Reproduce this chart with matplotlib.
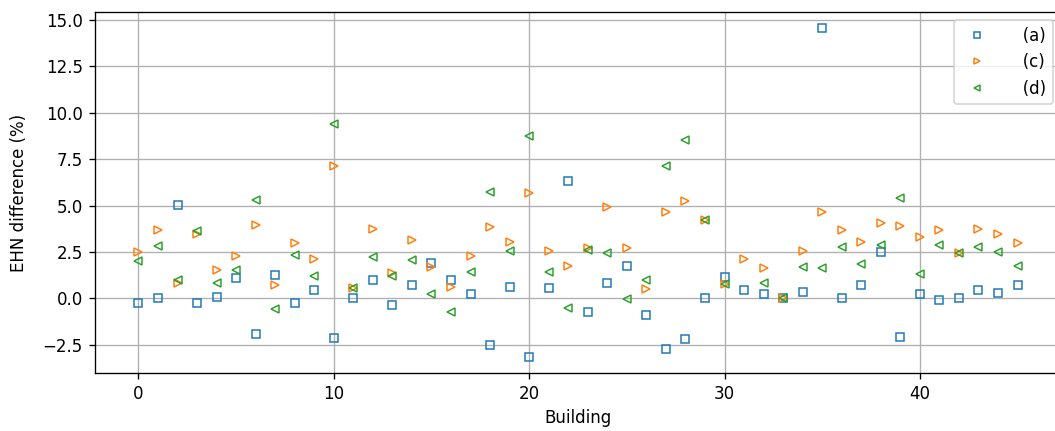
import numpy as np
import matplotlib
matplotlib.use("Agg")
import matplotlib.pyplot as plt

buildings = list(range(46))

series_a = [-0.23, 0.0, 5.05, -0.23, 0.07, 1.11, -1.94, 1.27, -0.23, 0.43,
            -2.15, 0.0, 0.99, -0.36, 0.72, 1.92, 0.99, 0.22, -2.49, 0.63,
            -3.14, 0.57, 6.31, -0.72, 0.84, 1.77, -0.91, -2.71, -2.2, 0.0,
            1.16, 0.43, 0.22, 0.0, 0.34, 14.55, 0.0, 0.72, 2.49, -2.06,
            0.22, -0.09, 0.0, 0.43, 0.27, 0.72]

series_c = [2.49, 3.71, 0.84, 3.48, 1.51, 2.28, 3.98, 0.72, 2.97, 2.13,
            7.11, 0.57, 3.76, 1.34, 3.14, 1.70, 0.63, 2.28, 3.84, 3.05,
            5.70, 2.54, 1.77, 2.72, 4.91, 2.72, 0.48, 4.64, 5.27, 4.21,
            0.79, 2.12, 1.62, 0.0, 2.54, 4.64, 3.66, 3.05, 4.07, 3.89,
            3.30, 3.66, 2.42, 3.76, 3.48, 2.97]

series_d = [1.99, 2.83, 0.97, 3.62, 0.84, 1.51, 5.32, -0.56, 2.35, 1.20,
            9.39, 0.57, 2.22, 1.20, 2.08, 0.22, -0.72, 1.42, 5.75, 2.54,
            8.76, 1.42, -0.50, 2.63, 2.42, -0.05, 0.99, 7.11, 8.55, 4.21,
            0.75, np.nan, 0.84, 0.0, 1.70, 1.65, 2.78, 1.83, 2.90, 5.39,
            1.29, 2.90, 2.42, 2.78, 2.49, 1.77]

labels = ["(a)", "(c)", "(d)"]

DPI = 120
fig = plt.figure(figsize=(1055 / DPI, 431 / DPI), dpi=DPI)
ax = fig.add_axes([94.5 / 1055, 58 / 431, (1061.5 - 94.5) / 1055, 361 / 431])

style = dict(linestyle="none", fillstyle="none", markersize=4.6, markeredgewidth=0.9)
ax.plot(buildings, series_a, marker="s", color="C0", label="   " + labels[0], **style)
ax.plot(buildings, series_c, marker=">", color="C1", label="   " + labels[1], **style)
ax.plot(buildings, series_d, marker="<", color="C2", label="   " + labels[2], **style)

ax.set_xlabel("Building")
ax.set_ylabel("EHN difference (%)", labelpad=9)
ax.grid(True)
ax.legend(loc="upper right", markerscale=0.8)

fig.savefig("out.png", dpi=DPI)
